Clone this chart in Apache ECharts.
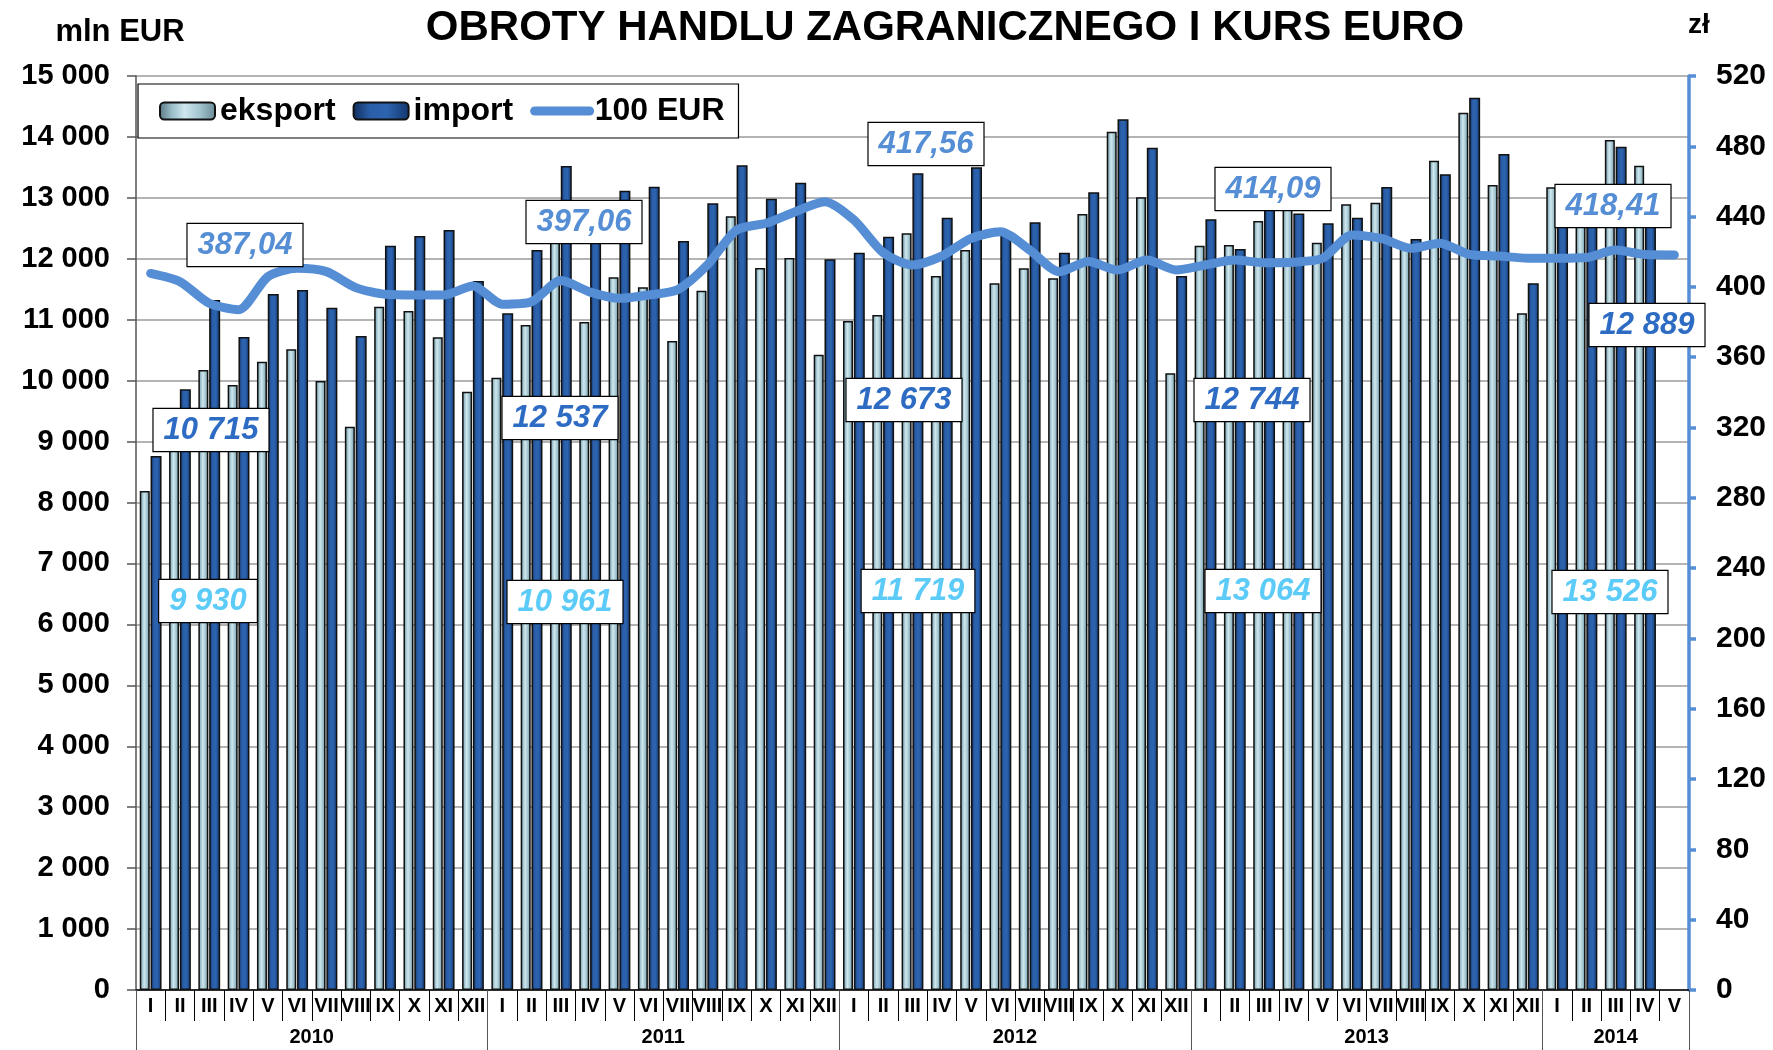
<!DOCTYPE html>
<html>
<head>
<meta charset="utf-8">
<title>Obroty handlu zagranicznego i kurs euro</title>
<script src="https://cdn.jsdelivr.net/npm/echarts@6/dist/echarts.min.js"></script>
<style>
  html, body { margin: 0; padding: 0; background: #fff; }
  #chart { width: 1773px; height: 1050px; }
</style>
</head>
<body>
<div id="chart"></div>
<script>
// Month and year labels of the category axis
const monthNames = ['I', 'II', 'III', 'IV', 'V', 'VI', 'VII', 'VIII', 'IX', 'X', 'XI', 'XII'];
const yearLabels = ['2010', '2011', '2012', '2013', '2014'];
const monthsPerYear = [12, 12, 12, 12, 5];

// Exports, mln EUR (2010-I .. 2014-V)
const exportVals = [
  8189, 9150, 10175, 9930, 10312, 10514, 9995, 9245, 11214, 11143, 10711, 9820,
  10049, 10914, 12500, 10961, 11696, 11532, 10651, 11477, 12697, 11849, 12013, 10427,
  10979, 11078, 12418, 11719, 12144, 11597, 11844, 11679, 12735, 14086, 13009, 10120,
  12215, 12226, 12620, 13064, 12265, 12894, 12921, 12200, 13610, 14398, 13211, 11105,
  13173, 13000, 13950, 13526, null
];

// Imports, mln EUR
const importVals = [
  8764, 9858, 11324, 10715, 11422, 11488, 11198, 10733, 12216, 12374, 12473, 11636,
  11105, 12144, 13523, 12537, 13118, 13184, 12292, 12910, 13534, 12987, 13249, 11991,
  12101, 12363, 13403, 12673, 13501, 12418, 12598, 12101, 13091, 14289, 13824, 11718,
  12648, 12161, 12850, 12744, 12582, 12675, 13178, 12326, 13386, 14644, 13720, 11597,
  12850, 12600, 13840, 12889, null
];

// Price of 100 EUR in PLN
const rateVals = [
  407.7, 403.0, 390.7, 387.04, 405.8, 410.6, 408.7, 399.6, 395.8, 395.4, 395.4, 400.5,
  390.2, 391.6, 403.6, 397.06, 393.5, 395.4, 398.6, 412.5, 432.4, 436.2, 442.8, 448.5,
  438.1, 419.5, 412.5, 417.56, 427.6, 431.4, 421.0, 408.7, 414.4, 409.6, 415.3, 409.6,
  412.5, 415.3, 413.8, 414.09, 416.3, 429.5, 427.6, 422.0, 424.8, 418.5, 417.6, 416.3,
  416.3, 416.7, 421.0, 418.41, 418.2
];

// April of every year gets a set of value boxes
const noteMonth = 3;

// ---- derived category structure ----
const categories = [];
const yearOfCat = [];
const yearStart = [];
monthsPerYear.forEach(function (n, y) {
  yearStart.push(categories.length);
  for (let m = 0; m < n; m++) {
    categories.push(monthNames[m]);
    yearOfCat.push(y);
  }
});
const noteIdx = yearStart.map(function (s) { return s + noteMonth; });

function fmtInt(v) {
  return String(Math.round(v)).replace(/\B(?=(\d{3})+(?!\d))/g, ' ');
}
function fmtRate(v) {
  return v.toFixed(2).replace('.', ',');
}

const FONT = '"Liberation Sans", Arial, Helvetica, sans-serif';
const RATE_COLOR = '#558ed5';
const IMPORT_TXT = '#2e6cc4';
const EXPORT_TXT = '#5ccbf7';

// Box placement of the annotation boxes, one per year
const boxPos = {
  rate:   [[245, 245], [584, 222], [926, 144], [1273, 189], [1613, 206]],
  import: [[211, 430], [560, 418], [904, 400], [1252, 400], [1647, 325]],
  export: [[208, 601], [565, 602], [918, 591], [1263, 591], [1610, 592]]
};

function noteBox(pos, text, color) {
  return {
    type: 'text',
    x: pos[0],
    y: pos[1],
    z: 100,
    style: {
      text: text,
      fill: color,
      font: 'italic bold 31px ' + FONT,
      align: 'center',
      verticalAlign: 'middle',
      backgroundColor: '#ffffff',
      borderColor: '#000000',
      borderWidth: 1.2,
      padding: [6, 10, 5, 10]
    }
  };
}

const graphics = [
  { type: 'text', x: 120, y: 32, style: { text: 'mln EUR', font: 'bold 31px ' + FONT, fill: '#000', align: 'center', verticalAlign: 'middle' } },
  { type: 'text', x: 1699, y: 25, style: { text: 'zł', font: 'bold 28px ' + FONT, fill: '#000', align: 'center', verticalAlign: 'middle' } }
];
noteIdx.forEach(function (idx, y) {
  graphics.push(noteBox(boxPos.rate[y], fmtRate(rateVals[idx]), RATE_COLOR));
  graphics.push(noteBox(boxPos.import[y], fmtInt(importVals[idx]), IMPORT_TXT));
  graphics.push(noteBox(boxPos.export[y], fmtInt(exportVals[idx]), EXPORT_TXT));
});

// Year label sits in the middle of its group of months
const yearLabelIdx = yearStart.map(function (s, y) {
  return s + Math.floor((monthsPerYear[y] - 1) / 2);
});

const exportFill = new echarts.graphic.LinearGradient(0, 0, 1, 0, [
  { offset: 0, color: '#587681' },
  { offset: 0.22, color: '#98bcc8' },
  { offset: 0.45, color: '#cfe7ee' },
  { offset: 0.72, color: '#a1c4cf' },
  { offset: 1, color: '#678995' }
]);
const importFill = new echarts.graphic.LinearGradient(0, 0, 1, 0, [
  { offset: 0, color: '#0f2c5a' },
  { offset: 0.3, color: '#2a5ea8' },
  { offset: 0.6, color: '#2d64b0' },
  { offset: 1, color: '#12366c' }
]);

const chart = echarts.init(document.getElementById('chart'), null, { renderer: 'canvas' });

chart.setOption({
  animation: false,
  backgroundColor: '#ffffff',
  textStyle: { fontFamily: FONT },
  title: {
    text: 'OBROTY HANDLU ZAGRANICZNEGO I KURS EURO',
    left: 940,
    top: 2,
    textAlign: 'center',
    textStyle: { fontSize: 42, fontWeight: 'bold', color: '#000', fontFamily: FONT }
  },
  legend: {
    data: ['eksport', 'import', { name: '100 EUR', itemStyle: { opacity: 0 } }],
    left: 138,
    top: 84,
    orient: 'horizontal',
    backgroundColor: '#ffffff',
    borderColor: '#000000',
    borderWidth: 1.2,
    padding: [11, 14, 11, 21],
    itemGap: 17,
    itemWidth: 55,
    itemHeight: 17,
    textStyle: { fontSize: 32, fontWeight: 'bold', color: '#000', fontFamily: FONT },
    lineStyle: { width: 9, cap: 'round' }
  },
  grid: { left: 136, right: 84, top: 76, bottom: 60, containLabel: false },
  xAxis: [
    {
      type: 'category',
      data: categories,
      position: 'bottom',
      axisLine: { lineStyle: { color: '#000', width: 1.5 } },
      axisTick: { show: true, interval: 0, length: 31, lineStyle: { color: '#000', width: 1 } },
      axisLabel: { interval: 0, margin: 6, fontSize: 20, fontWeight: 'bold', color: '#000', hideOverlap: false },
      splitLine: { show: false }
    },
    {
      type: 'category',
      data: categories.map(function (_, i) { return String(i); }),
      position: 'bottom',
      axisLine: { show: false },
      axisTick: {
        show: true,
        length: 60,
        interval: function (i) { return yearStart.indexOf(i) >= 0; },
        lineStyle: { color: '#555', width: 1 }
      },
      axisLabel: {
        interval: function (i) { return yearLabelIdx.indexOf(i) >= 0; },
        margin: 37,
        formatter: function (v, i) {
          const y = yearOfCat[i];
          return (monthsPerYear[y] % 2 === 0 ? '{e|' : '{o|') + yearLabels[y] + '}';
        },
        rich: {
          e: { padding: [0, 0, 0, 29], fontSize: 20, fontWeight: 'bold', color: '#000', fontFamily: FONT },
          o: { fontSize: 20, fontWeight: 'bold', color: '#000', fontFamily: FONT }
        }
      },
      splitLine: { show: false }
    }
  ],
  yAxis: [
    {
      type: 'value',
      min: 0,
      max: 15000,
      interval: 1000,
      position: 'left',
      axisLine: { show: true, lineStyle: { color: '#555', width: 1.5 } },
      axisTick: { show: true, length: 9, lineStyle: { color: '#555', width: 1.5 } },
      axisLabel: { margin: 26, fontSize: 29, fontWeight: 'bold', color: '#000', formatter: fmtInt },
      splitLine: { show: true, lineStyle: { color: '#b4b4b4', width: 2 } }
    },
    {
      type: 'value',
      min: 0,
      max: 520,
      interval: 40,
      position: 'right',
      axisLine: { show: true, lineStyle: { color: RATE_COLOR, width: 3.5 } },
      axisTick: { show: true, length: 7, lineStyle: { color: RATE_COLOR, width: 3.5 } },
      axisLabel: { margin: 27, fontSize: 30, fontWeight: 'bold', color: '#000' },
      splitLine: { show: false }
    }
  ],
  series: [
    {
      name: 'eksport',
      type: 'bar',
      xAxisIndex: 0,
      yAxisIndex: 0,
      data: exportVals,
      barWidth: 10,
      barGap: '8%',
      itemStyle: { color: exportFill, borderColor: '#111', borderWidth: 1.5 },
      z: 2
    },
    {
      name: 'import',
      type: 'bar',
      xAxisIndex: 0,
      yAxisIndex: 0,
      data: importVals,
      barWidth: 11,
      itemStyle: { color: importFill, borderColor: '#111', borderWidth: 1.5 },
      z: 2
    },
    {
      name: '100 EUR',
      type: 'line',
      xAxisIndex: 0,
      yAxisIndex: 1,
      data: rateVals,
      symbol: 'none',
      smooth: 0.25,
      lineStyle: { color: RATE_COLOR, width: 9, cap: 'round', join: 'round' },
      itemStyle: { color: RATE_COLOR },
      z: 5
    }
  ],
  graphic: graphics
});
</script>
</body>
</html>
